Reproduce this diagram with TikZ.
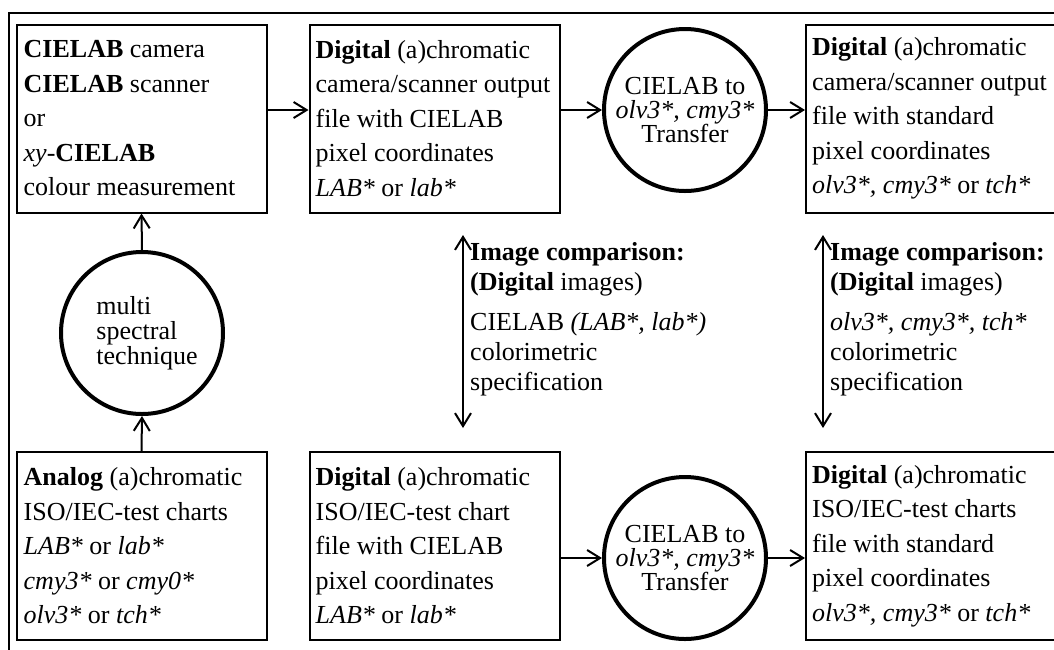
\documentclass[tikz,border=0pt]{standalone}
\usepackage{fontspec}
\setmainfont{Liberation Serif}
\usetikzlibrary{arrows.meta}
\begin{document}
\begin{tikzpicture}[x=1pt,y=-1pt,
  box/.style={draw, line width=2pt, minimum width=250pt, minimum height=188pt, inner sep=0pt},
  btext/.style={anchor=west, align=left, inner sep=0pt, font=\rmfamily\fontsize{26}{34.5}\selectfont},
  circ/.style={draw, circle, line width=4pt, minimum size=162pt, inner sep=0pt},
  ctext/.style={align=center, inner sep=0pt, font=\rmfamily\fontsize{26}{24}\selectfont},
  mtext/.style={anchor=north west, align=left, inner sep=0pt, font=\rmfamily\fontsize{26}{30}\selectfont},
  conn/.style={line width=2pt, -{Straight Barb[length=13pt,width=16pt]}},
  dconn/.style={line width=2pt, {Straight Barb[length=13pt,width=16pt]}-{Straight Barb[length=13pt,width=16pt]}},
  frame/.style={line width=2pt}
]
\useasboundingbox (0,0) rectangle (1054,649);
% outer frame
\coordinate (fr) at (1060,13);
\coordinate (fc) at (9,13);
\coordinate (fb) at (9,660);
\draw[frame] (fr) -- (fc) -- (fb);

% boxes
\node[box] (b1) at (141.5,118.5) {};
\node[box] (b2) at (434.5,118.5) {};
\node[box] (b3) at (931,118.5) {};
\node[box] (b4) at (141.5,546) {};
\node[box] (b5) at (434.5,546) {};
\node[box] (b6) at (931,546) {};

% box texts
\node[btext] (t1) at ([xshift=8pt]b1.west) {\textbf{CIELAB} camera\\ \textbf{CIELAB} scanner\\ or\\ \textit{xy}-\textbf{CIELAB}\\ colour measurement};
\node[btext] (t2) at ([xshift=7pt]b2.west) {\textbf{Digital} (a)chromatic\\ camera/scanner output\\ file with CIELAB\\ pixel coordinates\\ \textit{LAB*} or \textit{lab*}};
\node[btext] (t3) at ([xshift=7pt]b3.west) {\textbf{Digital} (a)chromatic\\ camera/scanner output\\ file with standard\\ pixel coordinates\\ \textit{olv3*, cmy3*} or \textit{tch*}};
\node[btext] (t4) at ([xshift=8pt]b4.west) {\textbf{Analog} (a)chromatic\\ ISO/IEC-test charts\\ \textit{LAB*} or \textit{lab*}\\ \textit{cmy3*} or \textit{cmy0*}\\ \textit{olv3*} or \textit{tch*}};
\node[btext] (t5) at ([xshift=7pt]b5.west) {\textbf{Digital} (a)chromatic\\ ISO/IEC-test chart\\ file with CIELAB\\ pixel coordinates\\ \textit{LAB*} or \textit{lab*}};
\node[btext] (t6) at ([xshift=7pt]b6.west) {\textbf{Digital} (a)chromatic\\ ISO/IEC-test charts\\ file with standard\\ pixel coordinates\\ \textit{olv3*, cmy3*} or \textit{tch*}};

% circles
\node[circ] (c1) at (685,110) {};
\node[circ] (c2) at (685,558) {};
\node[circ] (cm) at (142,333) {};
\node[ctext] (ct1) at (c1.center) {CIELAB to\\ \textit{olv3*, cmy3*}\\ Transfer};
\node[ctext] (ct2) at (c2.center) {CIELAB to\\ \textit{olv3*, cmy3*}\\ Transfer};
\node[ctext, align=left, font=\rmfamily\fontsize{26}{25}\selectfont] (ctm) at ([xshift=5pt]cm.center) {multi\\ spectral\\ technique};

% connectors
\draw[conn] (b1.east |- c1) -- (b2.west |- c1);
\draw[conn] (b2.east |- c1) -- (c1.west);
\draw[conn] (c1.east) -- (b3.west |- c1);
\draw[conn] (b5.east |- c2) -- (c2.west);
\draw[conn] (c2.east) -- (b6.west |- c2);
\draw[conn] (cm.north) -- (b1.south);
\draw[conn] (b4.north) -- (cm.south);

% comparison arrows
\coordinate (d1a) at (463,235);
\coordinate (d1b) at (463,428);
\coordinate (d2a) at (823,235);
\coordinate (d2b) at (823,428);
\draw[dconn] (d1a) -- (d1b);
\draw[dconn] (d2a) -- (d2b);

% comparison texts
\node[mtext] (m1) at (470,242) {\textbf{Image comparison:}\\ \textbf{(Digital} images)\\[10pt] CIELAB \textit{(LAB*, lab*)}\\ colorimetric\\ specification};
\node[mtext] (m2) at (830,242) {\textbf{Image comparison:}\\ \textbf{(Digital} images)\\[10pt] \textit{olv3*, cmy3*, tch*}\\ colorimetric\\ specification};
\end{tikzpicture}
\end{document}
